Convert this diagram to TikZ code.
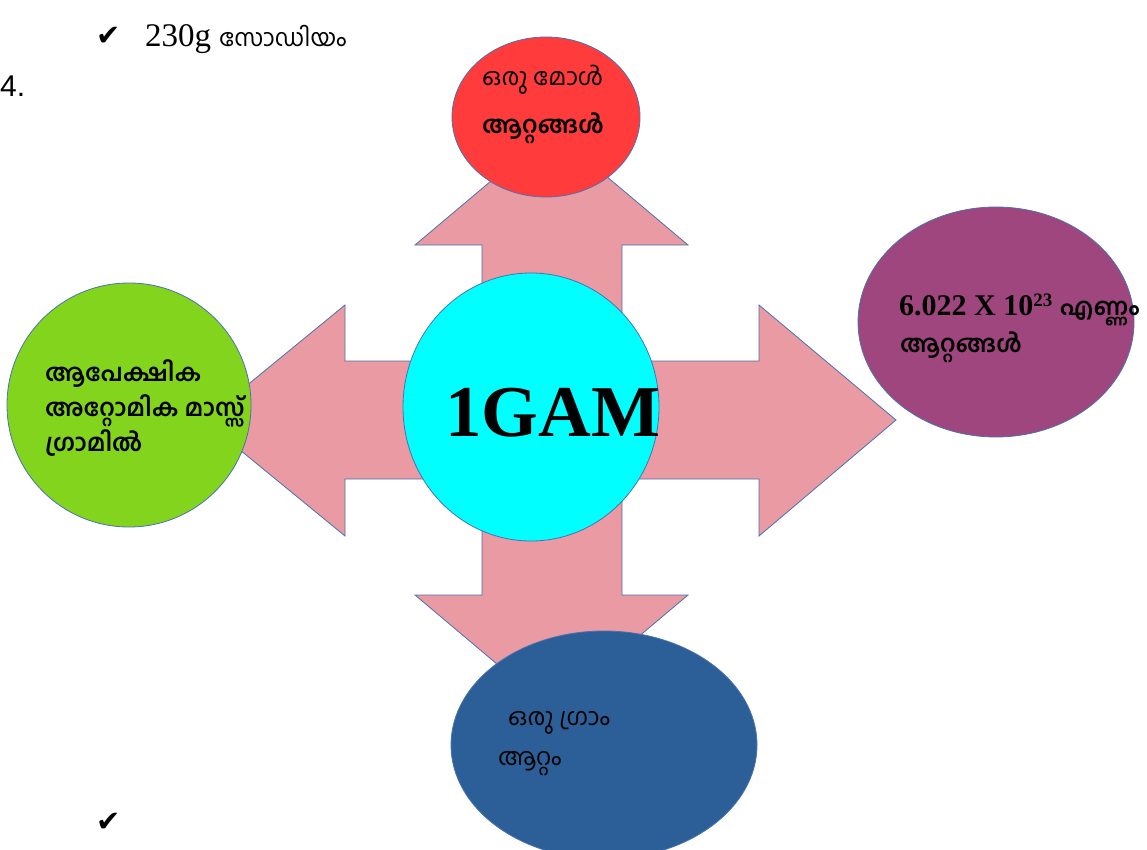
\documentclass[tikz,border=0pt]{standalone}
\usepackage{fontspec}
\setmainfont{Liberation Serif}
\newfontfamily\mlfont[Script=Malayalam]{Hind Kochi}
\newfontfamily\symfont{DejaVu Sans}
\newfontfamily\numfont{Liberation Sans}
\usetikzlibrary{shapes.geometric}
\definecolor{arrowpink}{HTML}{EA9AA2}
\definecolor{edgeblue}{HTML}{4A72B0}
\definecolor{molered}{HTML}{FF3B3B}
\definecolor{gamcyan}{HTML}{00FFFF}
\definecolor{massgreen}{HTML}{82D41C}
\definecolor{countpurple}{HTML}{A0467E}
\definecolor{gramblue}{HTML}{2C5F97}

\begin{document}
\begin{tikzpicture}[x=1pt,y=-1pt,
  blob/.style={ellipse,draw=edgeblue,line width=0.8pt,inner sep=0pt},
  txt/.style={anchor=base west,inner sep=0pt},
  tick/.style={txt,font=\symfont\fontsize{29}{29}\selectfont},
  mal/.style={font=\mlfont\fontsize{24}{24}\selectfont},
  malbold/.style={font=\mlfont\bfseries\fontsize{24}{24}\selectfont}]
\useasboundingbox (0,0) rectangle (1147,850);
% list text round the picture
\node[tick] (tick1) at (96,46) {✔};
\node[txt,font=\fontsize{33}{33}\selectfont] (sodium) at (145,47) {230g {\mlfont\fontsize{24}{24}\selectfont സോഡിയം}};
\node[txt,font=\numfont\fontsize{30}{30}\selectfont] (item) at (0,97) {4.};
\node[tick] (tick2) at (96,831) {✔};
% four-way block arrow
\draw[edgeblue,fill=arrowpink,line width=0.8pt]
  (482,361) -- (482,245) -- (415,245) -- (551.5,130) -- (688,245) -- (622,245) -- (622,361)
  -- (759,361) -- (759,305) -- (896,420) -- (759,536) -- (759,479) -- (622,479)
  -- (622,595) -- (688,595) -- (551.5,710) -- (415,595) -- (482,595) -- (482,479)
  -- (345,479) -- (345,536) -- (204,420.5) -- (345,305) -- (345,361) -- cycle;
% circles
\node[blob,fill=gamcyan,minimum width=256pt,minimum height=268pt] (gam) at (531,407) {};
\node[blob,fill=molered,minimum width=188pt,minimum height=160pt] (mole) at (546,117) {};
\node[blob,fill=countpurple,minimum width=276pt,minimum height=230pt] (count) at (996,322) {};
\node[blob,fill=massgreen,minimum width=244pt,minimum height=244pt] (mass) at (129,405) {};
\node[blob,fill=gramblue,minimum width=306pt,minimum height=228pt] (gram) at (604,745) {};
% texts
\node[txt,font=\bfseries\fontsize{73}{73}\selectfont] (gamtext) at (445,436) {1GAM};
\node[txt,mal] (mole1) at (482,86) {ഒരു മോൾ};
\node[txt,malbold] (mole2) at (482,134) {ആറ്റങ്ങൾ};
\node[txt,font=\bfseries\fontsize{30}{30}\selectfont] (count1) at (899,315)
  {6.022 X 10\raisebox{9pt}{\fontsize{19}{19}\selectfont 23} {\mlfont\fontsize{24}{24}\selectfont എണ്ണം}};
\node[txt,malbold] (count2) at (900,352) {ആറ്റങ്ങൾ};
\node[txt,malbold] (mass1) at (45,381) {ആപേക്ഷിക};
\node[txt,malbold] (mass2) at (45,416) {അറ്റോമിക മാസ്സ്};
\node[txt,malbold] (mass3) at (45,451) {ഗ്രാമിൽ};
\node[txt,mal] (gram1) at (508,725) {ഒരു ഗ്രാം};
\node[txt,mal] (gram2) at (498,765) {ആറ്റം};
\end{tikzpicture}
\end{document}
